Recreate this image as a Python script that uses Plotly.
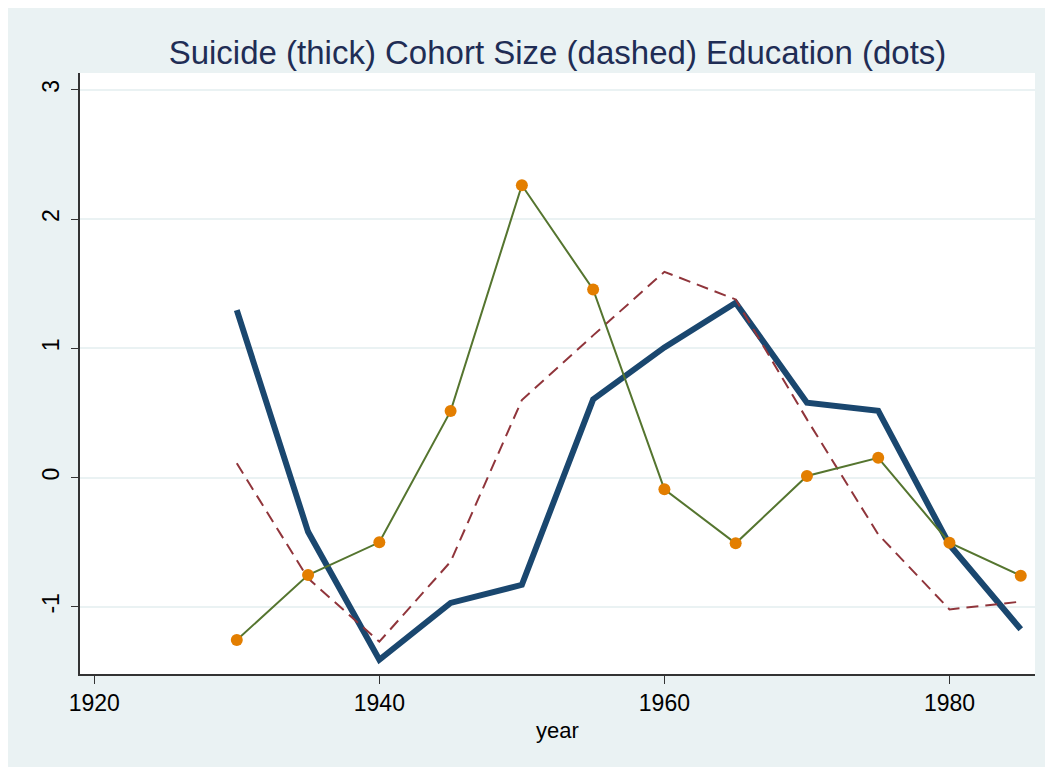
import plotly.graph_objects as go

years = [1930, 1935, 1940, 1945, 1950, 1955, 1960, 1965, 1970, 1975, 1980, 1985]
suicide = [1.295, -0.42, -1.41, -0.97, -0.83, 0.605, 1.007, 1.352, 0.579, 0.517, -0.52, -1.174]
cohort = [0.11, -0.78, -1.27, -0.651, 0.60, 1.10, 1.592, 1.378, 0.45, -0.44, -1.02, -0.96]
education = [-1.257, -0.754, -0.501, 0.514, 2.262, 1.455, -0.091, -0.509, 0.012, 0.153, -0.504, -0.759]

x_ticks = [1920, 1940, 1960, 1980]
y_ticks = [-1, 0, 1, 2, 3]
y_tick_labels = ["-1", "0", "1", "2", "3"]

FONT = "Liberation Sans, Arial, sans-serif"
BG = "#EAF2F3"

fig = go.Figure()
fig.add_trace(go.Scatter(x=years, y=suicide, mode="lines",
                         line=dict(color="#1a476f", width=6), name="Suicide"))
fig.add_trace(go.Scatter(x=years, y=cohort, mode="lines",
                         line=dict(color="#90353b", width=2, dash="12px,7px"), name="Cohort Size"))
fig.add_trace(go.Scatter(x=years, y=education, mode="lines+markers",
                         line=dict(color="#55752f", width=2),
                         marker=dict(color="#e37e00", size=12, line=dict(width=0)),
                         name="Education"))

fig.update_layout(
    width=1045, height=759,
    paper_bgcolor=BG, plot_bgcolor="white",
    margin=dict(l=72, r=18, t=65, b=93),
    showlegend=False,
    font=dict(family=FONT, color="black", size=23),
    title=dict(text="Suicide (thick) Cohort Size (dashed) Education (dots)",
               x=0.5, xref="paper", xanchor="center",
               y=1 - 44 / 759, yref="container", yanchor="middle",
               font=dict(family=FONT, size=33, color="#1f2d55")),
)

fig.update_xaxes(range=[1919, 1986], tickvals=x_ticks, ticks="outside", ticklen=8,
                 tickcolor="#333333", tickwidth=1.2, showline=True, linecolor="#333333",
                 linewidth=1.5, showgrid=False, zeroline=False,
                 title=dict(text="year", font=dict(size=22), standoff=7),
                 tickfont=dict(size=23))
fig.update_yaxes(range=[-1.52, 3.13], tickvals=y_ticks, ticktext=y_tick_labels,
                 ticks="outside", ticklen=7, ticklabelstandoff=3,
                 tickcolor="#333333", tickwidth=1.2, showline=True, linecolor="#333333",
                 linewidth=1.5, showgrid=True, gridcolor=BG, gridwidth=2, zeroline=False,
                 tickangle=-90, tickfont=dict(size=23))

fig.write_html("out.html")
